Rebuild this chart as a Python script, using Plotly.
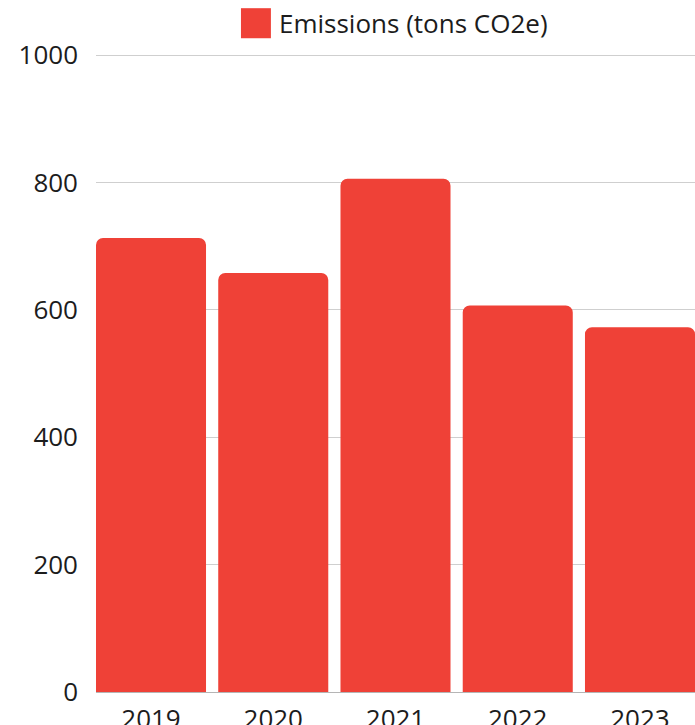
import plotly.graph_objects as go

years = ["2019", "2020", "2021", "2022", "2023"]
emissions = [713, 658, 806, 607, 573]
series_name = "Emissions (tons CO2e)"
y_ticks = [0, 200, 400, 600, 800, 1000]

bar_color = "#EF4137"
font_family = "'Open Sans', sans-serif"
text_color = "#1c1c1c"

fig = go.Figure()
fig.add_trace(go.Bar(
    x=years, y=emissions, name=series_name,
    marker=dict(color=bar_color, cornerradius=7, line=dict(width=0)),
    showlegend=False,
))

# custom legend (large square + label)
fig.add_shape(type="rect", xref="paper", yref="paper",
              x0=0.242, x1=0.292, y0=1.0247, y1=1.0718,
              fillcolor=bar_color, line=dict(width=0))
fig.add_annotation(text=series_name, xref="paper", yref="paper",
                   x=0.302, y=1.0487, xanchor="left", yanchor="middle",
                   showarrow=False, font=dict(size=26, color=text_color, family=font_family))

fig.update_layout(
    template="none",
    width=695, height=725,
    margin=dict(l=96, r=0, t=54, b=33),
    paper_bgcolor="white", plot_bgcolor="white",
    bargap=0.1,
    font=dict(family=font_family, size=26, color=text_color),
)
fig.update_xaxes(
    type="category", range=[-0.45, 4.45], automargin=False,
    showgrid=False, zeroline=False,
    showline=True, linecolor="#b5b5b5", linewidth=1,
    ticks="", ticklabelstandoff=4,
)
fig.update_yaxes(
    range=[0, 1002], tickvals=y_ticks, automargin=False,
    showgrid=True, gridcolor="#cfcfcf", gridwidth=1,
    zeroline=False, showline=False, ticks="",
    ticklabelstandoff=17,
)

fig.write_html("out.html")
